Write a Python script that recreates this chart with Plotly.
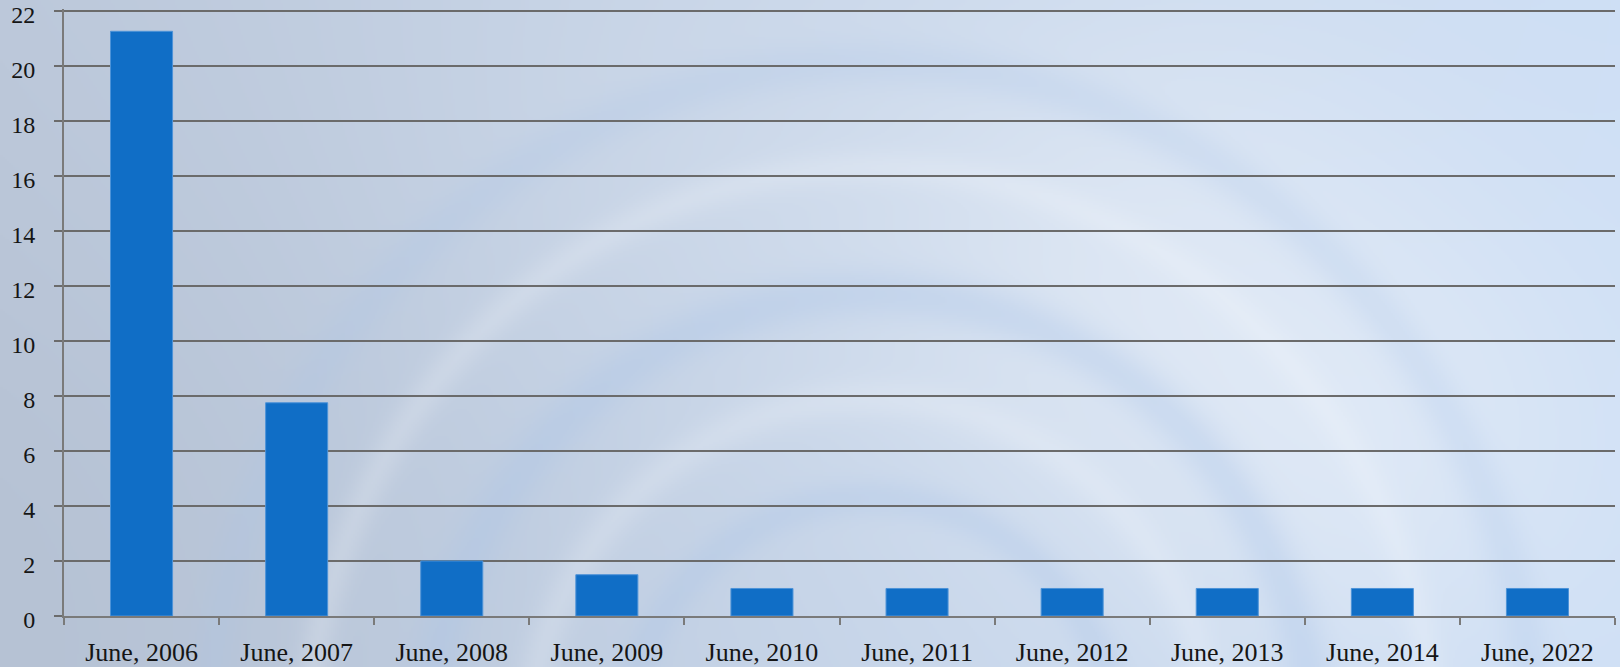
import base64
import struct
import zlib

import numpy as np
import plotly.graph_objects as go

# Chart data
categories = ["June, 2006", "June, 2007", "June, 2008", "June, 2009", "June, 2010",
              "June, 2011", "June, 2012", "June, 2013", "June, 2014", "June, 2022"]
values = [21.25, 7.75, 2.0, 1.5, 1.0, 1.0, 1.0, 1.0, 1.0, 1.0]
y_ticks = list(range(0, 23, 2))

W, H = 1620, 667
M_L, M_R, M_T, M_B = 64, 5, 9, 51
Y_MAX = 22.06


def encode_png(rgb):
    h, w, _ = rgb.shape
    raw = b"".join(b"\x00" + rgb[r].tobytes() for r in range(h))

    def chunk(tag, data):
        c = struct.pack(">I", len(data)) + tag + data
        return c + struct.pack(">I", zlib.crc32(tag + data) & 0xFFFFFFFF)

    return (b"\x89PNG\r\n\x1a\n"
            + chunk(b"IHDR", struct.pack(">IIBBBBB", w, h, 8, 2, 0, 0, 0))
            + chunk(b"IDAT", zlib.compress(raw, 9))
            + chunk(b"IEND", b""))


def backdrop(w=810, h=334):
    sx, sy = W / w, H / h
    yy, xx = np.mgrid[0:h, 0:w].astype(float)
    X, Y = xx * sx, yy * sy
    t = X / W
    left = np.array([190, 202, 220], float)
    right = np.array([206, 223, 245], float)
    img = left[None, None, :] * (1 - t[..., None]) + right[None, None, :] * t[..., None]
    white = np.array([255, 255, 255], float)
    # soft light glows, blended toward white
    for cx, cy, r, amt in [(1150, 270, 300, 0.33), (1380, 460, 240, 0.25), (700, 150, 320, 0.10)]:
        d = np.hypot(X - cx, Y - cy) / r
        a = (amt * np.exp(-d ** 2))[..., None]
        img = img * (1 - a) + white * a
    # darker corner at lower left
    d = np.hypot(X - 80, Y - 640) / 500
    img -= 8 * np.exp(-d ** 2)[..., None]
    # faint emblem arcs (blue-tinted bands)
    dark = np.array([170, 196, 232], float)
    dist = np.hypot(X - 870, (Y - 760) / 1.05)
    upper = (Y < 760)[..., None]
    for rad, width, amt in [(665, 22, 0.22), (565, 18, -0.18), (445, 24, 0.32), (345, 20, -0.18), (250, 18, 0.28)]:
        band = (np.exp(-((dist - rad) / width) ** 2))[..., None] * upper
        if amt > 0:
            a = band * amt
            img = img * (1 - a) + dark * a
        else:
            a = band * (-amt)
            img = img * (1 - a) + white * a
    img = np.clip(img, 0, 255).astype(np.uint8)
    return "data:image/png;base64," + base64.b64encode(encode_png(img)).decode()


pw = W - M_L - M_R
ph = H - M_T - M_B

fig = go.Figure(
    go.Bar(
        x=categories,
        y=values,
        marker=dict(color="#106ec6", line=dict(color="#4d93d8", width=1)),
        width=0.4,
        hoverinfo="x+y",
    )
)

font = dict(family="Liberation Serif, Times New Roman, serif", size=26, color="#151515")
yfont = dict(font, size=24)

fig.update_layout(
    width=W,
    height=H,
    margin=dict(l=M_L, r=M_R, t=M_T, b=M_B, autoexpand=False),
    paper_bgcolor="#cddaec",
    plot_bgcolor="rgba(0,0,0,0)",
    showlegend=False,
    font=font,
    images=[dict(
        source=backdrop(),
        xref="paper", yref="paper",
        x=-M_L / pw, y=1 + M_T / ph,
        sizex=W / pw, sizey=H / ph,
        xanchor="left", yanchor="top",
        sizing="stretch", layer="below",
    )],
    xaxis=dict(
        type="category",
        range=[-0.5, len(categories) - 0.5],
        automargin=False,
        showline=True, linecolor="#7a7a7a", linewidth=2,
        ticks="outside", tickson="boundaries", ticklen=7, tickwidth=2, tickcolor="#7a7a7a",
        showgrid=False,
        ticklabelstandoff=12,
        ticklabeloverflow="allow",
        tickfont=font,
    ),
    yaxis=dict(
        range=[0, Y_MAX],
        tickvals=y_ticks,
        automargin=False,
        showline=True, linecolor="#7a7a7a", linewidth=2,
        ticks="outside", ticklen=8, tickwidth=2, tickcolor="#6b6b6b",
        showgrid=True, gridcolor="#6b6b6b", gridwidth=2,
        zeroline=False,
        ticklabelstandoff=14,
        ticklabelshift=4,
        ticklabeloverflow="allow",
        tickfont=yfont,
    ),
)

fig.write_html("out.html")
